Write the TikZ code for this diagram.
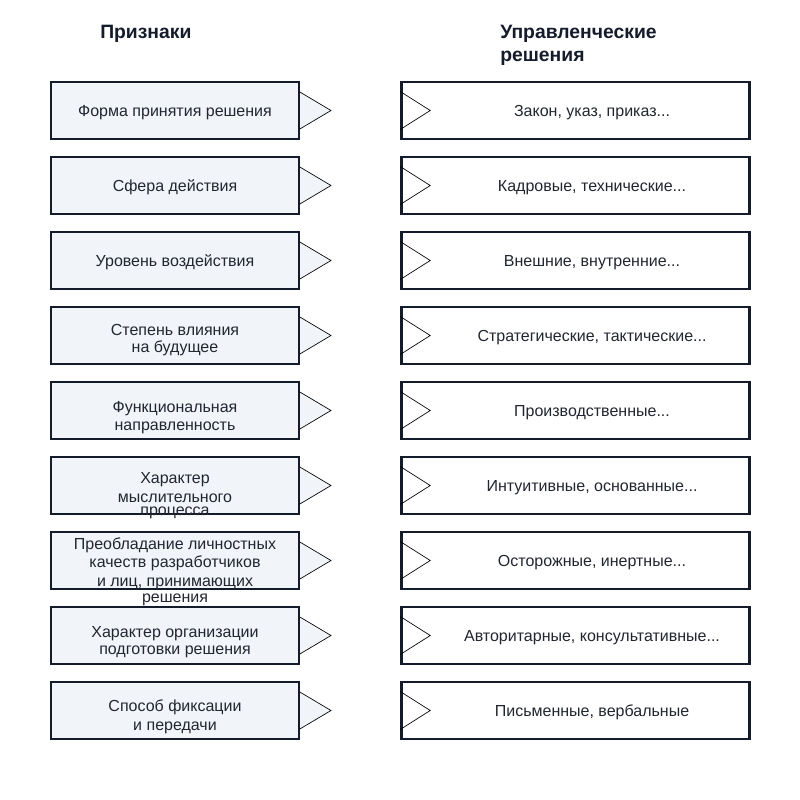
\documentclass[tikz,border=0pt]{standalone}
\usepackage{fontspec}
\setmainfont{Liberation Sans}
\definecolor{bordc}{HTML}{141C2B}
\definecolor{lfill}{HTML}{F1F4F9}
\definecolor{txtc}{HTML}{222630}
\tikzset{
  lbox/.style={draw=bordc, line width=1.9pt, fill=lfill, minimum width=186pt, minimum height=43pt, inner sep=0pt},
  rbox/.style={draw=bordc, line width=1.9pt, fill=white, minimum width=261pt, minimum height=43pt, inner sep=0pt},
  tri/.style={draw=black, line width=0.5pt},
  ltext/.style={text=txtc, font=\fontsize{12pt}{13.5pt}\selectfont, align=center, inner sep=0pt},
  rtext/.style={text=txtc, font=\fontsize{12pt}{13.5pt}\selectfont, inner sep=0pt},
  head/.style={text=bordc, font=\fontsize{14.5pt}{17pt}\selectfont\bfseries, align=left, inner sep=0pt},
}
\begin{document}
\begin{tikzpicture}[x=0.75pt,y=-0.75pt]
\useasboundingbox (0,0) rectangle (800,800);
\node[head, anchor=west] (h1) at (100,33.5) {Признаки};
\node[head, anchor=north west] (h2) at (500,25) {Управленческие\\решения};
\foreach \i in {0,...,8} {
  \pgfmathsetmacro{\c}{110.5+75*\i}
  \fill[lfill] (299,\c-19) -- (331,\c) -- (299,\c+19) -- cycle;
  \draw[tri] (299,\c-19) -- (331,\c) -- (299,\c+19);
  \node[lbox] (l\i) at (175,\c) {};
  \node[rbox] (r\i) at (575.5,\c) {};
  \draw[tri] (r\i.west) ++(0,-19) coordinate (ra\i) -- ++(30,19) -- ++(-30,19);
}
\node[ltext] (lt0) at (175,112.5) {Форма принятия решения};
\node[ltext] (lt1) at (175,187.5) {Сфера действия};
\node[ltext] (lt2) at (175,262.5) {Уровень воздействия};
\node[ltext] (lt3) at (175,340) {Степень влияния\\[-0.75pt]на будущее};
\node[ltext] (lt4) at (175,417.5) {Функциональная\\[0.4pt]направленность};
\node[ltext] (lt5) at (175,495.5) {Характер\\[0.75pt]мыслительного\\[-3.75pt]процесса};
\node[ltext] (lt6) at (175,571.5) {Преобладание личностных\\качеств разработчиков\\[0.75pt]и лиц, принимающих\\[-1.5pt]решения};
\node[ltext] (lt7) at (175,642) {Характер организации\\[-0.75pt]подготовки решения};
\node[ltext] (lt8) at (175,717) {Способ фиксации\\[0.75pt]и передачи};
\node[rtext] (rt0) at (592,112.5) {Закон, указ, приказ...};
\node[rtext] (rt1) at (592,187.5) {Кадровые, технические...};
\node[rtext] (rt2) at (592,262.5) {Внешние, внутренние...};
\node[rtext] (rt3) at (592,337.5) {Стратегические, тактические...};
\node[rtext] (rt4) at (592,412.5) {Производственные...};
\node[rtext] (rt5) at (592,487.5) {Интуитивные, основанные...};
\node[rtext] (rt6) at (592,562.5) {Осторожные, инертные...};
\node[rtext] (rt7) at (592,637.5) {Авторитарные, консультативные...};
\node[rtext] (rt8) at (592,712.5) {Письменные, вербальные};
\end{tikzpicture}
\end{document}
